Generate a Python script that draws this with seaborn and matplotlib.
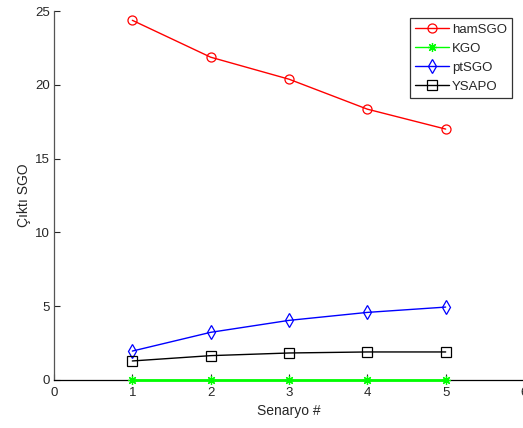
import matplotlib
matplotlib.use("Agg")
import matplotlib.pyplot as plt
import seaborn as sns
import pandas as pd

senaryo = [1, 2, 3, 4, 5]
ham_sgo = [24.37, 21.87, 20.38, 18.35, 17.0]
kgo = [0.02, 0.02, 0.02, 0.02, 0.02]
pt_sgo = [1.96, 3.23, 4.04, 4.58, 4.94]
ysapo = [1.29, 1.65, 1.83, 1.90, 1.90]

series_names = ["hamSGO", "KGO", "ptSGO", "YSAPO"]
series_values = [ham_sgo, kgo, pt_sgo, ysapo]
colors = ["#ff0000", "#00ff00", "#0000ff", "#000000"]
markers = ["o", (8, 2, 0), "d", "s"]
marker_sizes = [6.5, 6.5, 7.5, 6.5]
xticks = [0, 1, 2, 3, 4, 5, 6]
yticks = [0, 5, 10, 15, 20, 25]

sns.set_theme(style="ticks")
plt.rcParams["font.family"] = ["Liberation Sans", "DejaVu Sans"]
plt.rcParams["xtick.direction"] = "in"
plt.rcParams["ytick.direction"] = "in"

fig = plt.figure(figsize=(5.23, 4.28), dpi=100)
ax = fig.add_axes([54 / 523, 48 / 428, 470 / 523, 369 / 428])

for name, vals, c, m, ms in zip(series_names, series_values,
                                colors, markers, marker_sizes):
    df = pd.DataFrame({"Senaryo": senaryo, "val": vals})
    sns.lineplot(data=df, x="Senaryo", y="val", ax=ax, color=c, marker=m,
                 markerfacecolor="none", markeredgecolor=c,
                 markersize=ms, markeredgewidth=0.9,
                 linewidth=1.0 if name != "KGO" else 2.0, label=name,
                 clip_on=False, zorder=5)

ax.set_xlim(0, 6)
ax.set_ylim(0, 25)
ax.set_xticks(xticks)
ax.set_yticks(yticks)
ax.set_xlabel("Senaryo #", fontsize=10, color="#262626", labelpad=4)
ax.set_ylabel("Çıktı SGO", fontsize=10, color="#262626", labelpad=3)
ax.tick_params(axis="both", labelsize=9.5, colors="#262626", length=4, width=0.8)
ax.tick_params(axis="x", pad=5)
ax.tick_params(axis="y", pad=3)
ax.spines["top"].set_visible(False)
ax.spines["right"].set_visible(False)
ax.spines["left"].set_color("#555555")
ax.spines["bottom"].set_color("#000000")
ax.spines["left"].set_linewidth(0.9)
ax.spines["bottom"].set_linewidth(0.9)

leg = ax.legend(loc="upper right", bbox_to_anchor=(458 / 470, 1 - 7 / 369),
                fontsize=9.5, frameon=True, fancybox=False, borderpad=0.4,
                handlelength=2.6, labelspacing=0.52, handletextpad=0.2,
                borderaxespad=0)
leg.get_frame().set_edgecolor("black")
leg.get_frame().set_linewidth(0.9)
leg.set_zorder(10)
for h in leg.get_lines():
    h.set_linewidth(1.0)
for t in leg.get_texts():
    t.set_color("#262626")

fig.savefig("out.png", dpi=100, facecolor="white")
